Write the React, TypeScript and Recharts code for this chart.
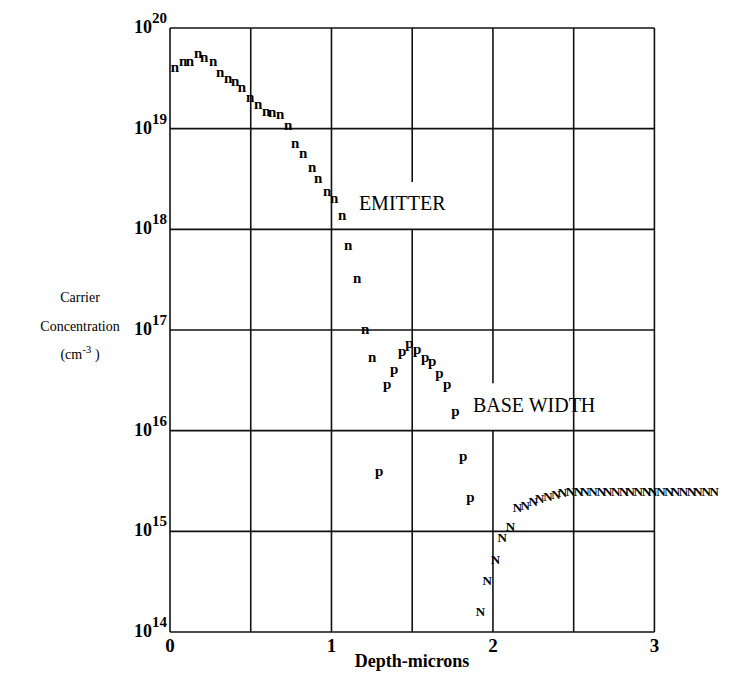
import React from "react";
import {
  ScatterChart,
  Scatter,
  XAxis,
  YAxis,
  ReferenceLine,
  ReferenceDot,
  Label,
} from "recharts";

const SERIF = "'Liberation Serif', 'Times New Roman', serif";
const INK = "#111";

// emitter electrons (n)
const nDepth = [
  0.031, 0.081, 0.124, 0.174, 0.211, 0.267, 0.31, 0.36, 0.403, 0.446, 0.496,
  0.546, 0.595, 0.632, 0.682, 0.732, 0.775, 0.825, 0.88, 0.918, 0.973, 1.017,
  1.066, 1.104, 1.159, 1.209, 1.252,
];
const nConc = [
  4.0e19, 4.5e19, 4.5e19, 5.4e19, 5.0e19, 4.5e19, 3.5e19, 3.1e19, 2.9e19,
  2.5e19, 2.0e19, 1.7e19, 1.45e19, 1.4e19, 1.35e19, 1.05e19, 6.9e18, 5.5e18,
  4.0e18, 3.1e18, 2.3e18, 2.0e18, 1.35e18, 6.8e17, 3.2e17, 1.0e17, 5.2e16,
];

// base holes (p)
const pDepth = [
  1.296, 1.345, 1.389, 1.438, 1.482, 1.531, 1.581, 1.624, 1.668, 1.717, 1.767,
  1.816, 1.86,
];
const pConc = [
  3.8e15, 2.75e16, 3.9e16, 5.9e16, 7.1e16, 6.2e16, 5.1e16, 4.7e16, 3.6e16,
  2.75e16, 1.5e16, 5.4e15, 2.1e15,
];

// collector electrons (N)
const bigNDepth = [
  1.922, 1.965, 2.015, 2.058, 2.108, 2.151, 2.2, 2.25, 2.29, 2.34, 2.39, 2.43,
  2.48, 2.53, 2.57, 2.62, 2.67, 2.71, 2.76, 2.81, 2.85, 2.9, 2.95, 2.99, 3.04,
  3.09, 3.13, 3.18, 3.23, 3.27, 3.32, 3.37,
];
const bigNConc = [
  1.6e14, 3.2e14, 5.2e14, 8.7e14, 1.1e15, 1.7e15, 1.8e15, 1.95e15, 2.1e15,
  2.2e15, 2.3e15, 2.4e15, 2.45e15, 2.5e15, 2.5e15, 2.45e15, 2.5e15, 2.5e15,
  2.45e15, 2.5e15, 2.5e15, 2.5e15, 2.45e15, 2.5e15, 2.5e15, 2.5e15, 2.45e15,
  2.5e15, 2.5e15, 2.5e15, 2.5e15, 2.5e15,
];

const decades = [1e14, 1e15, 1e16, 1e17, 1e18, 1e19, 1e20];
const depthTicks = [0, 1, 2, 3];
// vertical rules: [depth, from, to]; two are broken around the captions
const vRules: [number, number, number][] = [
  [0, 1e14, 1e20],
  [0.5, 1e14, 1e20],
  [1, 1e14, 1e20],
  [1.5, 1e14, 1e18],
  [1.5, 2.95e18, 1e20],
  [2, 1e14, 1e16],
  [2, 2.95e16, 1e20],
  [2.5, 1e14, 1e20],
  [3, 1e14, 1e20],
];

const toPoints = (xs: number[], ys: number[]) =>
  xs.map((x, i) => ({ x, y: ys[i] }));

const nData = toPoints(nDepth, nConc);
const pData = toPoints(pDepth, pConc);
const bigNData = toPoints(bigNDepth, bigNConc);

const letter = (ch: string, size: number, dy: number) => (props: any) => {
  const { cx, cy } = props;
  if (cx == null || cy == null) return <g />;
  return (
    <text
      x={cx}
      y={cy + dy}
      textAnchor="middle"
      fontFamily={SERIF}
      fontWeight="bold"
      fontSize={size}
      fill="#000"
    >
      {ch}
    </text>
  );
};

const DecadeTick = ({ x, y, payload }: any) => {
  const exp = Math.round(Math.log10(payload.value));
  return (
    <text
      x={x}
      y={y + 5}
      textAnchor="end"
      fontFamily={SERIF}
      fontWeight="bold"
      fill="#000"
    >
      <tspan fontSize={18}>10</tspan>
      <tspan fontSize={15} dy={-10}>
        {exp}
      </tspan>
    </text>
  );
};

const DepthTick = ({ x, y, payload }: any) => (
  <text
    x={x}
    y={y + 20}
    textAnchor="middle"
    fontFamily={SERIF}
    fontWeight="bold"
    fontSize={19}
    fill="#000"
  >
    {payload.value}
  </text>
);

const ConcLabel = () => (
  <g fontFamily={SERIF} fontSize={14} fill="#000" textAnchor="middle">
    <text x={80} y={302}>
      Carrier
    </text>
    <text x={80} y={331}>
      Concentration
    </text>
    <text x={80} y={359}>
      (cm
      <tspan dy={-6} fontSize={11}>
        -3
      </tspan>
      <tspan dy={6}> )</tspan>
    </text>
  </g>
);

const caption = (text: string) => (props: any) => (
  <text
    x={props.cx}
    y={props.cy}
    fontFamily={SERIF}
    fontSize={20}
    fill="#000"
  >
    {text}
  </text>
);

export default function App() {
  return (
    <div style={{ position: "absolute", left: 0, top: 0, background: "#fff" }}>
      <ScatterChart
        width={730}
        height={675}
        margin={{ top: 28, right: 11, bottom: 0, left: 0 }}
      >
        <XAxis
          type="number"
          dataKey="x"
          domain={[0, 3.4]}
          ticks={depthTicks}
          axisLine={false}
          tickLine={false}
          tickSize={0}
          tickMargin={0}
          height={43}
          tick={<DepthTick />}
          allowDataOverflow
        >
          <Label
            value="Depth-microns"
            content={() => (
              <text
                x={412}
                y={667}
                textAnchor="middle"
                fontFamily={SERIF}
                fontWeight="bold"
                fontSize={18}
                fill="#000"
              >
                Depth-microns
              </text>
            )}
          />
        </XAxis>
        <YAxis
          type="number"
          dataKey="y"
          scale="log"
          domain={[1e14, 1e20]}
          ticks={decades}
          axisLine={false}
          tickLine={false}
          tickSize={0}
          tickMargin={3}
          width={170}
          tick={<DecadeTick />}
          allowDataOverflow
        >
          <Label value="Carrier Concentration" content={() => <ConcLabel />} />
        </YAxis>

        {decades.map((d) => (
          <ReferenceLine
            key={"h" + d}
            segment={[
              { x: 0, y: d },
              { x: 3, y: d },
            ]}
            stroke={INK}
            strokeWidth={1.6}
            ifOverflow="visible"
          />
        ))}
        {vRules.map(([x, from, to], i) => (
          <ReferenceLine
            key={"v" + i}
            segment={[
              { x, y: from },
              { x, y: to },
            ]}
            stroke={INK}
            strokeWidth={1.6}
            ifOverflow="visible"
          />
        ))}

        <Scatter
          data={nData}
          shape={letter("n", 15, 3.5)}
          isAnimationActive={false}
        />
        <Scatter
          data={pData}
          shape={letter("p", 15, 3)}
          isAnimationActive={false}
        />
        <Scatter
          data={bigNData}
          shape={letter("N", 13, 4.3)}
          isAnimationActive={false}
        />

        <ReferenceDot
          x={1.17}
          y={1.56e18}
          ifOverflow="visible"
          shape={caption("EMITTER")}
        />
        <ReferenceDot
          x={1.876}
          y={1.53e16}
          ifOverflow="visible"
          shape={caption("BASE WIDTH")}
        />
      </ScatterChart>
    </div>
  );
}
